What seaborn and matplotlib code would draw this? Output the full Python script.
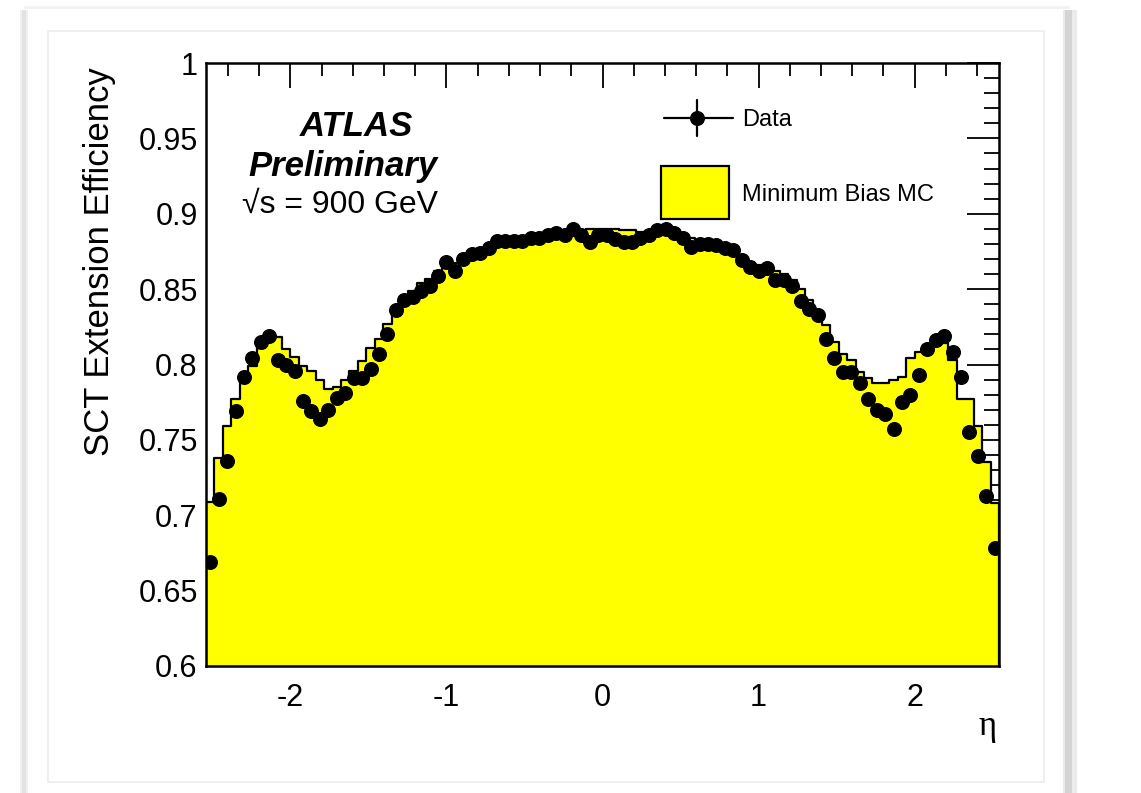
import numpy as np
import pandas as pd
import matplotlib
matplotlib.use("Agg")
import matplotlib.pyplot as plt
import seaborn as sns
from matplotlib.patches import Rectangle

# eta binning of the efficiency histograms
eta_min, eta_max = -2.54, 2.54
n_bins = 94

# Minimum Bias MC efficiency per eta bin
mc_eff = [
    0.709, 0.738, 0.759, 0.777, 0.789, 0.799, 0.811, 0.817, 0.818, 0.810,
    0.805, 0.799, 0.796, 0.790, 0.784, 0.785, 0.790, 0.796, 0.802, 0.811,
    0.817, 0.827, 0.837, 0.844, 0.849, 0.854, 0.857, 0.862, 0.865, 0.867,
    0.870, 0.873, 0.876, 0.878, 0.880, 0.882, 0.883, 0.884, 0.885, 0.886,
    0.887, 0.888, 0.888, 0.889, 0.889, 0.890, 0.890,
    0.890, 0.890, 0.889, 0.889, 0.888, 0.888, 0.887, 0.887, 0.886, 0.884,
    0.884, 0.882, 0.880, 0.879, 0.877, 0.875, 0.871, 0.868, 0.866, 0.865,
    0.862, 0.860, 0.856, 0.850, 0.843, 0.835, 0.826, 0.815, 0.807, 0.803,
    0.795, 0.791, 0.788, 0.788, 0.790, 0.792, 0.804, 0.808, 0.812, 0.815,
    0.814, 0.803, 0.777, 0.777, 0.759, 0.735, 0.708,
]

# Measured efficiency in data per eta bin
data_eff = [
    0.669, 0.711, 0.736, 0.769, 0.792, 0.804, 0.815, 0.819, 0.803, 0.800,
    0.796, 0.776, 0.769, 0.764, 0.770, 0.778, 0.781, 0.791, 0.791, 0.797,
    0.807, 0.820, 0.836, 0.843, 0.845, 0.849, 0.852, 0.859, 0.868, 0.862,
    0.870, 0.873, 0.874, 0.877, 0.882, 0.882, 0.882, 0.882, 0.884, 0.884,
    0.886, 0.887, 0.886, 0.890, 0.886, 0.881, 0.886,
    0.886, 0.883, 0.881, 0.881, 0.884, 0.886, 0.889, 0.890, 0.887, 0.884,
    0.878, 0.880, 0.880, 0.879, 0.877, 0.876, 0.869, 0.865, 0.862, 0.864,
    0.856, 0.856, 0.852, 0.842, 0.837, 0.833, 0.817, 0.804, 0.795, 0.795,
    0.788, 0.777, 0.770, 0.767, 0.757, 0.775, 0.780, 0.793, 0.810, 0.816,
    0.819, 0.808, 0.792, 0.755, 0.739, 0.713, 0.678,
]

x_ticks = [-2, -1, 0, 1, 2]
y_ticks = [0.6, 0.65, 0.7, 0.75, 0.8, 0.85, 0.9, 0.95, 1.0]
y_ticklabels = ["0.6", "0.65", "0.7", "0.75", "0.8", "0.85", "0.9", "0.95", "1"]

edges = np.linspace(eta_min, eta_max, n_bins + 1)
centers = 0.5 * (edges[:-1] + edges[1:])
half_width = 0.5 * (edges[1] - edges[0])
hist_df = pd.DataFrame({"eta": centers, "mc": mc_eff, "data": data_eff})

sns.set_theme(style="white")
plt.rcParams["font.family"] = ["Liberation Sans", "DejaVu Sans"]
plt.rcParams["text.color"] = "black"
plt.rcParams["axes.labelcolor"] = "black"
plt.rcParams["xtick.color"] = "black"
plt.rcParams["ytick.color"] = "black"

W, H = 1141, 793
fig = plt.figure(figsize=(W / 100, H / 100), dpi=100)
fig.patch.set_facecolor("white")


def px_rect(x0, y0, x1, y1, **kw):
    """Rectangle given in pixel coordinates measured from the top-left corner."""
    return Rectangle((x0 / W, 1 - y1 / H), (x1 - x0) / W, (y1 - y0) / H,
                     transform=fig.transFigure, zorder=-5, **kw)


# slide card: soft grey side shadows, faint top edge, light inner frame
for x0, x1, col in [(20, 28, "#f0f0f0"), (22, 26, "#e2e2e2"),
                    (1063, 1077, "#ebebeb"), (1065, 1072, "#d4d4d4")]:
    fig.patches.append(px_rect(x0, 10, x1, 800, facecolor=col,
                               edgecolor="none"))
fig.patches.append(px_rect(24, 6, 1070, 9, facecolor="#f3f3f3",
                           edgecolor="none"))
fig.patches.append(px_rect(48, 31, 1044, 782, facecolor="white",
                           edgecolor="#ececec", linewidth=1.2))

ax = fig.add_axes([206 / W, 1 - 666 / H, 793 / W, 603 / H])
ax.set_facecolor("white")

# MC histogram: filled yellow steps with black outline
sns.histplot(data=hist_df, x="eta", weights="mc", bins=list(edges),
             element="step", fill=True, color="#ffff00", alpha=1.0,
             edgecolor="black", linewidth=1.6, ax=ax, zorder=1)

# data points with bin-width horizontal bars
ax.errorbar(hist_df["eta"], hist_df["data"], xerr=half_width, fmt="o",
            color="black", markersize=9.8, elinewidth=1.4, capsize=0, zorder=3)

ax.set_xlim(eta_min, eta_max)
ax.set_ylim(0.6, 1.0)
ax.set_xticks(x_ticks)
ax.set_xticklabels([str(v) for v in x_ticks])
ax.set_yticks(y_ticks)
ax.set_yticklabels(y_ticklabels)
ax.set_xticks(np.arange(-2.4, 2.41, 0.2), minor=True)
ax.set_yticks(np.arange(0.6, 1.0001, 0.01), minor=True)
ax.tick_params(axis="both", which="both", direction="in", top=True, right=True,
               colors="black", labelcolor="black", width=1.3, labelsize=22)
ax.tick_params(axis="x", which="major", length=18, pad=12)
ax.tick_params(axis="x", which="minor", length=9)
ax.tick_params(axis="y", which="major", length=23, pad=6)
ax.tick_params(axis="y", which="minor", length=11)
for s in ax.spines.values():
    s.set_color("black")
    s.set_linewidth(1.8)
    s.set_zorder(4)
ax.set_xlabel("")
ax.set_ylabel("")

ax.text(0.997, -0.100, "\u03b7", transform=ax.transAxes, ha="right",
        va="center", fontsize=25, family=["Liberation Serif", "DejaVu Serif"])
fig.text(100 / W, 1 - 262 / H, "SCT Extension Efficiency", rotation=90,
         ha="center", va="center", fontsize=25)

# experiment label
ax.text(0.190, 0.894, "ATLAS", transform=ax.transAxes, ha="center",
        va="center", fontsize=25, fontweight="bold", fontstyle="italic")
ax.text(0.173, 0.829, "Preliminary", transform=ax.transAxes, ha="center",
        va="center", fontsize=25, fontweight="bold", fontstyle="italic")
ax.text(0.169, 0.765, "\u221as = 900 GeV", transform=ax.transAxes,
        ha="center", va="center", fontsize=23)

# legend entries
ax.plot([0.578, 0.665], [0.909, 0.909], color="black", lw=1.6,
        transform=ax.transAxes, clip_on=False, zorder=5)
ax.plot([0.619, 0.619], [0.879, 0.939], color="black", lw=1.6,
        transform=ax.transAxes, clip_on=False, zorder=5)
ax.plot([0.619], [0.909], "o", color="black", markersize=9.8,
        transform=ax.transAxes, clip_on=False, zorder=6)
ax.text(0.676, 0.905, "Data", transform=ax.transAxes, ha="left",
        va="center", fontsize=17)
ax.add_patch(Rectangle((0.574, 0.741), 0.086, 0.088, transform=ax.transAxes,
                       facecolor="#ffff00", edgecolor="black", linewidth=1.6,
                       zorder=5))
ax.text(0.676, 0.781, "Minimum Bias MC", transform=ax.transAxes, ha="left",
        va="center", fontsize=17)

fig.savefig("out.png", dpi=100)
